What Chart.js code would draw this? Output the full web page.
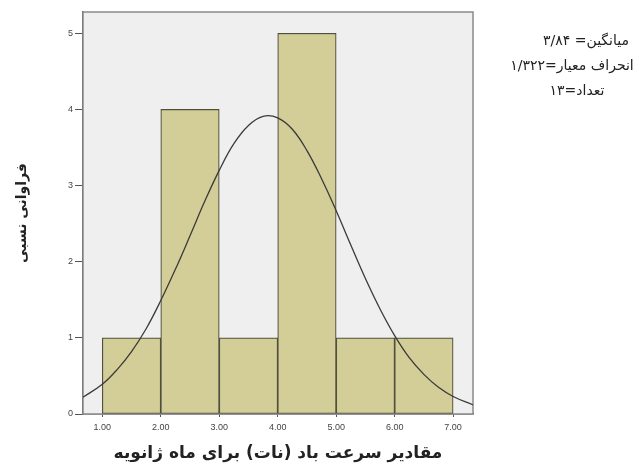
<!doctype html>
<html lang="fa">
<head>
    <meta charset="UTF-8">
    <title>Histogram</title>
    <script src="https://cdn.jsdelivr.net/npm/chart.js"></script>
    <style>
        body { margin: 0; background: #fff; }
    </style>
</head>
<body>
<canvas id="myChart" width="642" height="470"></canvas>

<script>
    // histogram bins (wind speed, knots) and counts
    var binStart = [1, 2, 3, 4, 5, 6];
    var binEnd = [2, 3, 4, 5, 6, 7];
    var counts = [1, 4, 1, 5, 1, 1];

    // fitted normal curve
    var curveX = [0.67, 1, 1.25, 1.5, 1.75, 2, 2.25, 2.5, 2.75, 3, 3.25, 3.5, 3.75, 4, 4.25, 4.5, 4.75, 5, 5.25, 5.5, 5.75, 6, 6.25, 6.5, 6.75, 7, 7.34];
    var curveY = [0.22, 0.39, 0.58, 0.82, 1.12, 1.49, 1.90, 2.34, 2.79, 3.20, 3.55, 3.79, 3.91, 3.89, 3.74, 3.46, 3.09, 2.67, 2.22, 1.78, 1.38, 1.03, 0.74, 0.52, 0.35, 0.23, 0.12];

    var xTicks = [1, 2, 3, 4, 5, 6, 7];
    var yTicks = [0, 1, 2, 3, 4, 5];

    var statLines = ['میانگین= ۳/۸۴', 'انحراف معیار=۱/۳۲۲', 'تعداد=۱۳'];
    var xTitle = 'مقادیر سرعت باد (نات) برای ماه ژانویه';
    var yTitle = 'فراوانی نسبی';

    var barData = binStart.map(function (s, i) {
        return {x: (s + binEnd[i]) / 2, y: counts[i]};
    });
    var curveData = curveX.map(function (x, i) {
        return {x: x, y: curveY[i]};
    });

    // grey plot background + frame, and the stats text on the right
    var decor = {
        id: 'decor',
        beforeDatasetsDraw: function (chart) {
            var c = chart.ctx, a = chart.chartArea;
            c.save();
            c.fillStyle = '#efefef';
            c.fillRect(a.left, a.top, a.right - a.left, a.bottom - a.top);
            c.strokeStyle = '#8a8a8a';
            c.lineWidth = 1.5;
            c.strokeRect(a.left, a.top, a.right - a.left, a.bottom - a.top);
            c.restore();
        },
        afterDraw: function (chart) {
            var c = chart.ctx;
            c.save();
            c.direction = 'rtl';
            c.textAlign = 'center';
            c.textBaseline = 'middle';
            c.fillStyle = '#222';
            c.font = '14px "DejaVu Sans"';
            var ys = [41, 66, 91];
            var xs = [586, 572, 577];
            statLines.forEach(function (t, i) {
                c.fillText(t, xs[i], ys[i]);
            });
            c.restore();
        }
    };

    var ctx = document.getElementById('myChart');

    var myChart = new Chart(ctx, {
        type: 'bar',
        data: {
            datasets: [{
                type: 'line',
                data: curveData,
                borderColor: '#3a3a3a',
                borderWidth: 1.3,
                pointRadius: 0,
                tension: 0.4,
                fill: false,
                order: 0
            }, {
                type: 'bar',
                data: barData,
                backgroundColor: '#d3ce97',
                borderColor: '#505040',
                borderWidth: 1.2,
                borderSkipped: false,
                barPercentage: 1,
                categoryPercentage: 1,
                order: 1
            }]
        },
        options: {
            responsive: false,
            animation: false,
            layout: {padding: {top: 12, right: 169, left: 0, bottom: 0}},
            plugins: {
                legend: {display: false},
                tooltip: {enabled: false}
            },
            scales: {
                x: {
                    type: 'linear',
                    offset: false,
                    min: 0.67,
                    max: 7.34,
                    afterFit: function (s) { s.height = 56; },
                    afterBuildTicks: function (s) {
                        s.ticks = xTicks.map(function (v) { return {value: v}; });
                    },
                    ticks: {
                        autoSkip: false,
                        maxRotation: 0,
                        padding: 5,
                        color: '#444',
                        font: {family: '"Liberation Sans"', size: 9},
                        callback: function (v) { return Number(v).toFixed(2); }
                    },
                    grid: {offset: false, drawOnChartArea: false, drawTicks: true, tickLength: 3, color: '#555'},
                    border: {display: true, color: '#555', width: 1.5},
                    title: {
                        display: true,
                        text: xTitle,
                        color: '#222',
                        font: {family: '"DejaVu Sans"', size: 17, weight: 'bold'},
                        padding: {bottom: 6}
                    }
                },
                y: {
                    min: 0,
                    max: 5.28,
                    afterFit: function (s) { s.width = 83; },
                    afterBuildTicks: function (s) {
                        s.ticks = yTicks.map(function (v) { return {value: v}; });
                    },
                    ticks: {
                        padding: 2,
                        color: '#444',
                        font: {family: '"Liberation Sans"', size: 9}
                    },
                    grid: {drawOnChartArea: false, drawTicks: true, tickLength: 8, color: '#555'},
                    border: {display: true, color: '#555', width: 1.5},
                    title: {
                        display: true,
                        text: yTitle,
                        color: '#222',
                        font: {family: '"DejaVu Sans"', size: 14, weight: 'bold'},
                        padding: {top: 14}
                    }
                }
            }
        },
        plugins: [decor]
    });
</script>
</body>
</html>
